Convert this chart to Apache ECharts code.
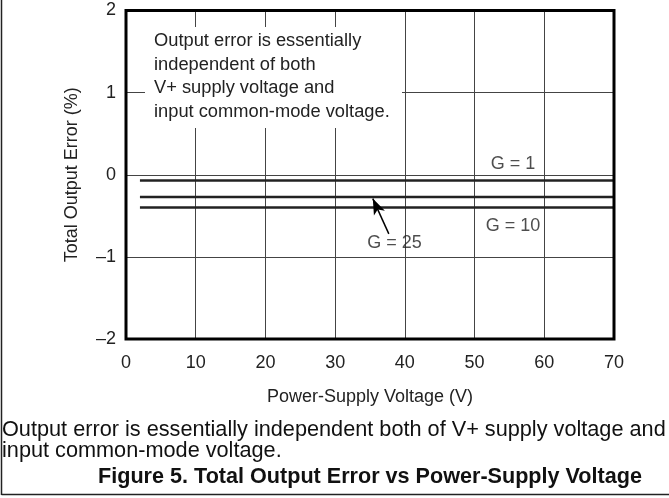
<!DOCTYPE html>
<html>
<head>
<meta charset="utf-8">
<script src="https://cdn.jsdelivr.net/npm/echarts@6/dist/echarts.min.js"></script>
<style>
html,body{margin:0;padding:0;background:#fff;}
#c{width:669px;height:498px;}
</style>
</head>
<body>
<div id="c"></div>
<script>
// ---- data ----
const supplyVoltage = [2, 70];               // V
const errorG1  = [-0.07, -0.07];             // %
const errorG25 = [-0.27, -0.27];
const errorG10 = [-0.40, -0.40];
const xTicks = [0, 10, 20, 30, 40, 50, 60, 70];
const yTicks = [-2, -1, 0, 1, 2];
const gainLabels = ['G = 1', 'G = 10', 'G = 25'];
const gainLabelX = [55.5, 55.5, 38.5];
const gainLabelY = [0.13, -0.63, -0.83];
const arrowFrom = [37.7, -0.72];
const arrowTo = [35.4, -0.29];
const noteLines = ['Output error is essentially', 'independent of both', 'V+ supply voltage and', 'input common-mode voltage.'];
const captionLines = ['Output error is essentially independent both of V+ supply voltage and', 'input common-mode voltage.'];
const figureTitle = 'Figure 5. Total Output Error vs Power-Supply Voltage';

const FONT = '"Liberation Sans", Arial, sans-serif';
const chart = echarts.init(document.getElementById('c'), null, {renderer: 'canvas'});

function lineSeries(ys) {
  return {
    type: 'line', symbol: 'none', silent: true,
    lineStyle: {color: '#222', width: 2.5},
    data: supplyVoltage.map((x, i) => [x, ys[i]]),
    z: 3
  };
}

const option = {
  animation: false,
  backgroundColor: '#fff',
  grid: {left: 126, top: 10.5, width: 488, height: 328.5, show: true, borderColor: '#000', borderWidth: 3, backgroundColor: 'transparent', z: 4},
  xAxis: {
    type: 'value', min: xTicks[0], max: xTicks[xTicks.length - 1], interval: 10,
    axisLine: {show: false}, axisTick: {show: false},
    splitLine: {show: true, lineStyle: {color: '#444', width: 1}},
    axisLabel: {fontFamily: FONT, fontSize: 18, color: '#222', margin: 15},
    name: 'Power-Supply Voltage (V)', nameLocation: 'middle', nameGap: 49,
    nameTextStyle: {fontFamily: FONT, fontSize: 18, color: '#222'}
  },
  yAxis: {
    type: 'value', min: yTicks[0], max: yTicks[yTicks.length - 1], interval: 1,
    axisLine: {show: false}, axisTick: {show: false},
    splitLine: {show: true, lineStyle: {color: '#444', width: 1}},
    axisLabel: {fontFamily: FONT, fontSize: 18, color: '#222', margin: 10,
      formatter: v => (v < 0 ? '\u2013' + Math.abs(v) : String(v))},
    name: 'Total Output Error (%)', nameLocation: 'middle', nameGap: 45,
    nameTextStyle: {fontFamily: FONT, fontSize: 18, color: '#222'}
  },
  series: [
    lineSeries(errorG1),
    lineSeries(errorG25),
    lineSeries(errorG10),
    {
      type: 'scatter', symbolSize: 0, silent: true, z: 6,
      data: gainLabels.map((t, i) => ({value: [gainLabelX[i], gainLabelY[i]], name: t})),
      label: {show: true, position: 'inside', formatter: p => p.name, fontFamily: FONT, fontSize: 18, color: '#222'}
    },
    {
      type: 'line', data: [], silent: true,
      markLine: {
        silent: true, symbol: ['none', 'arrow'], symbolSize: [9, 16],
        lineStyle: {color: '#000', width: 1.5, type: 'solid'},
        label: {show: false},
        data: [[{coord: arrowFrom}, {coord: arrowTo}]]
      }
    }
  ],
  graphic: [
    {type: 'rect', shape: {x: 145, y: 27, width: 257, height: 101}, style: {fill: '#fff'}, z: 5, silent: true},
    {type: 'text', left: 154, top: 29, z: 6, silent: true,
      style: {text: noteLines.join('\n'), font: '18.3px ' + FONT, fill: '#222', lineHeight: 23.7}},
    {type: 'text', left: 2, top: 419, silent: true,
      style: {text: captionLines.join('\n'), font: '21.7px ' + FONT, fill: '#111', lineHeight: 21.5}},
    {type: 'text', x: 370, y: 477, silent: true,
      style: {text: figureTitle, font: 'bold 21.6px ' + FONT, fill: '#111', textAlign: 'center', textVerticalAlign: 'middle'}},
    {type: 'line', shape: {x1: 1.5, y1: 0, x2: 1.5, y2: 495}, style: {stroke: '#222', lineWidth: 1.5}, silent: true},
    {type: 'line', shape: {x1: 1.5, y1: 494.5, x2: 669, y2: 494.5}, style: {stroke: '#222', lineWidth: 1.5}, silent: true}
  ]
};
chart.setOption(option);
</script>
</body>
</html>
